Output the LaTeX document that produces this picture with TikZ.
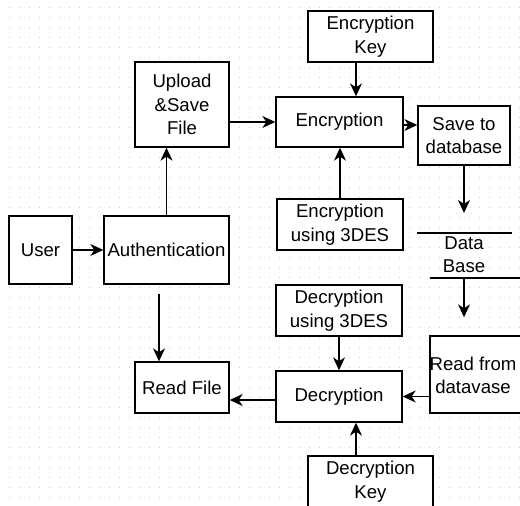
\documentclass[tikz,border=0pt]{standalone}
\usepackage{fontspec}
\setmainfont{Liberation Sans}
\usetikzlibrary{arrows.meta}

\tikzset{
  block/.style={rectangle,draw,fill=white,line width=1.4pt,align=center,inner sep=0pt},
  arr/.style={line width=1.3pt,-{Stealth[length=13pt,width=12pt,inset=4pt]}},
}

\begin{document}
\begin{tikzpicture}[x=1pt,y=-1pt,font=\fontsize{18.6}{23.5}\selectfont]
		\useasboundingbox (0,0) rectangle (520,506);
		% dotted grid
		\foreach \i in {0,...,51}
		  \foreach \j in {0,...,50}
		    \fill[black!20] (10*\i+8.5,10*\j+6.5) rectangle +(1,1);

		\node[block,minimum width=63pt,minimum height=68pt] (user) at (40.5,250) {User};
		\node[block,minimum width=125pt,minimum height=68pt] (auth) at (166.5,250) {Authentication};
		\node[block,minimum width=94pt,minimum height=85pt] (upload) at (182,104.5) {Upload\\\&Save\\File};
		\node[block,minimum width=94pt,minimum height=51pt] (readfile) at (182,387.5) {Read File};
		\node[block,minimum width=125pt,minimum height=51pt] (enckey) at (370.5,36.5) {Encryption\\Key};
		\node[block,minimum width=127pt,minimum height=50pt] (enc) at (339.5,122) {Encryption};
		\node[block,minimum width=92pt,minimum height=59pt] (save) at (464,135.5) {Save to\\database};
		\node[block,minimum width=126pt,minimum height=51pt] (enc3des) at (340,224.5) {Encryption\\using 3DES};
		\node[align=center,inner sep=0pt] (db) at (464,254.5) {Data\\Base};
		\coordinate (dbtop) at (464,233);
		\coordinate (dbbot) at (464,278);
		\draw[line width=1.3pt] (417,233) -- (512,233);
		\draw[line width=1.3pt] (430,278) -- (521,278);
		\node[block,minimum width=100pt,minimum height=77pt] (readdb) at (480,374.5) {};
		\node[align=center,inner sep=0pt] (readdbtext) at (473,375.5) {Read from\\datavase};
		\node[block,minimum width=126pt,minimum height=51pt] (dec3des) at (339,310.5) {Decryption\\using 3DES};
		\node[block,minimum width=126pt,minimum height=51pt] (dec) at (339,396.5) {Decryption};
		\node[block,minimum width=125pt,minimum height=51pt] (deckey) at (370.5,481.5) {Decryption\\Key};

		\draw[arr] (user) -- (auth);
		\draw[arr] (auth.north) -- (auth.north |- upload.south);
		\draw[arr,shorten <=9pt] ([xshift=-7.5pt]auth.south) -- ([xshift=-7.5pt]auth.south |- readfile.north);
		\draw[arr] (upload.east |- enc.west) -- (enc.west);
		\draw[arr] ([xshift=-14.5pt]enckey.south) -- ([xshift=-14.5pt]enckey.south |- enc.north);
		\draw[arr] ([yshift=-3pt]enc.east) -- ([yshift=-3pt]enc.east -| save.west);
		\draw[arr] (enc3des.north) -- (enc3des.north |- enc.south);
		\draw[arr,shorten >=20pt] (save.south) -- (dbtop);
		\draw[arr,shorten >=18pt] (dbbot) -- (dbbot |- readdb.north);
		\draw[arr] (dec.east -| readdb.west) -- (dec.east);
		\draw[arr] (dec3des.south) -- (dec3des.south |- dec.north);
		\draw[arr] ([xshift=-14.5pt]deckey.north) -- ([xshift=-14.5pt]deckey.north |- dec.south);
		\draw[arr] ([yshift=-3.5pt]dec.west) -- ([yshift=-3.5pt]dec.west -| readfile.east);
\end{tikzpicture}
\end{document}
